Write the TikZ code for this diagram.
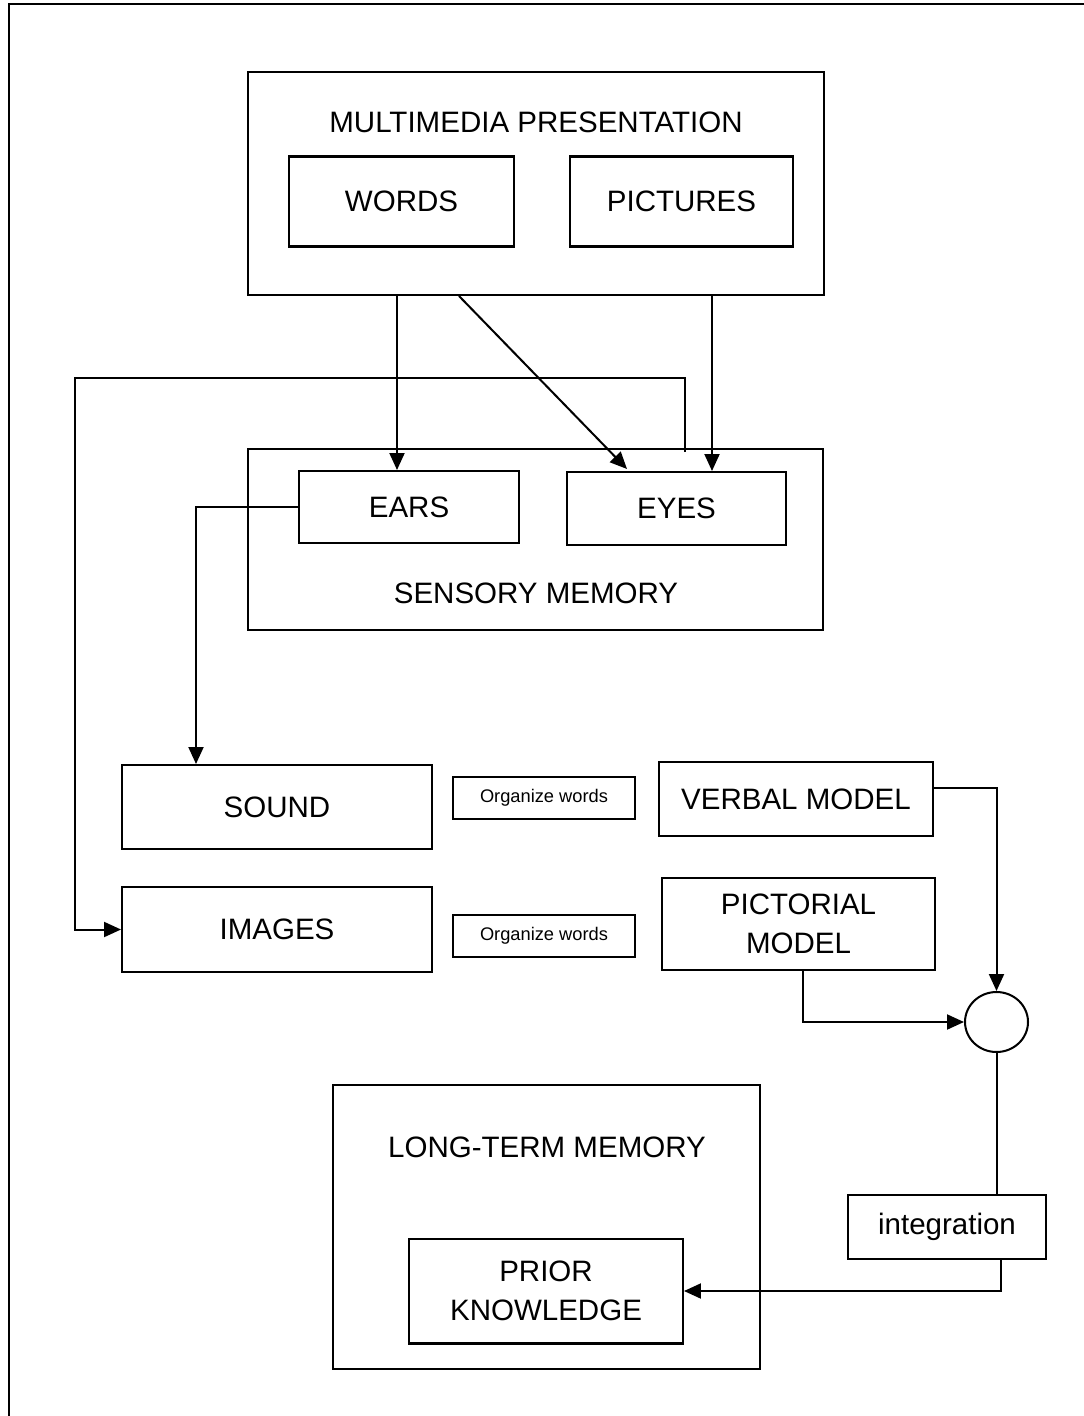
\documentclass[tikz,border=0pt]{standalone}
\usepackage{fontspec}
\setmainfont{Liberation Sans}
\usetikzlibrary{arrows.meta,shapes.geometric}

\begin{document}
\begin{tikzpicture}[x=0.02cm,y=-0.02cm,line width=1.15pt,
  box/.style={draw,rectangle,inner sep=0pt,align=center,font=\fontsize{16.8}{22}\selectfont},
  lbl/.style={inner sep=0pt,font=\fontsize{16.8}{22}\selectfont},
  small/.style={box,font=\fontsize{10.4}{12}\selectfont},
  arr/.style={-{Triangle[length=0.34cm,width=0.3cm]}}]
\useasboundingbox (0,0) rectangle (1083,1416);
% page frame
\draw[line width=1.6pt] (9,1430) -- (9,4) -- (1095,4);

% multimedia presentation
\node[box,minimum width=11.52cm,minimum height=4.46cm] (mp) at (536,183.5) {};
\node[lbl] (mpt) at (536,122) {MULTIMEDIA PRESENTATION};
\node[box,minimum width=4.5cm,minimum height=1.8cm] (words) at (401.5,201.5) {WORDS};
\node[box,minimum width=4.46cm,minimum height=1.8cm] (pics) at (681.5,201.5) {PICTURES};

% sensory memory
\node[box,minimum width=11.5cm,minimum height=3.62cm] (sens) at (535.5,539.5) {};
\node[lbl] (senst) at (536,593) {SENSORY MEMORY};
\node[box,minimum width=4.4cm,minimum height=1.44cm] (ears) at (409,507) {EARS};
\node[box,minimum width=4.38cm,minimum height=1.46cm] (eyes) at (676.5,508.5) {EYES};

% working memory
\node[box,minimum width=6.2cm,minimum height=1.68cm] (sound) at (277,807) {SOUND};
\node[box,minimum width=6.2cm,minimum height=1.7cm] (images) at (277,929.5) {IMAGES};
\node[small,minimum width=3.64cm,minimum height=0.84cm] (org1) at (544,798) {Organize words};
\node[small,minimum width=3.64cm,minimum height=0.84cm] (org2) at (544,936) {Organize words};
\node[box,minimum width=5.48cm,minimum height=1.48cm] (verbal) at (796,799) {VERBAL MODEL};
\node[box,minimum width=5.46cm,minimum height=1.84cm] (pict) at (798.5,924) {PICTORIAL\\MODEL};
\node[draw,ellipse,inner sep=0pt,minimum width=1.26cm,minimum height=1.2cm] (int) at (996.5,1022) {};
\node[box,minimum width=3.96cm,minimum height=1.28cm] (integ) at (947,1227) {integration};

% long-term memory
\node[box,minimum width=8.54cm,minimum height=5.68cm] (ltm) at (546.5,1227) {};
\node[lbl] (ltmt) at (547,1147) {LONG-TERM MEMORY};
\node[box,minimum width=5.48cm,minimum height=2.1cm] (pk) at (546,1291) {PRIOR\\KNOWLEDGE};

% connector anchors
\coordinate (xw) at (397,0);
\coordinate (xd) at (459,0);
\coordinate (xp) at (712,0);
\coordinate (tipd) at (627,469);
\coordinate (ret) at (685,452);
\coordinate (rt) at (685,378);
\coordinate (lt) at (75,378);
\coordinate (xs) at (196,0);
\coordinate (xm) at (803,0);
\coordinate (xi) at (1001,0);

\draw[arr] (mp.south -| xw) -- (ears.north -| xw);
\draw[arr] (mp.south -| xd) -- (tipd);
\draw[arr] (mp.south -| xp) -- (eyes.north -| xp);
\draw[arr] (ret) -- (rt) -- (lt) |- (images.west);
\draw[arr] (ears.west) -| (sound.north -| xs);
\draw[arr] ([yshift=0.22cm]verbal.east) -| (int.north);
\draw[arr] (pict.south -| xm) |- (int.west);
\draw (int.south) -- (int.south |- integ.north);
\draw[arr] (integ.south -| xi) |- (pk.east);
\end{tikzpicture}
\end{document}
